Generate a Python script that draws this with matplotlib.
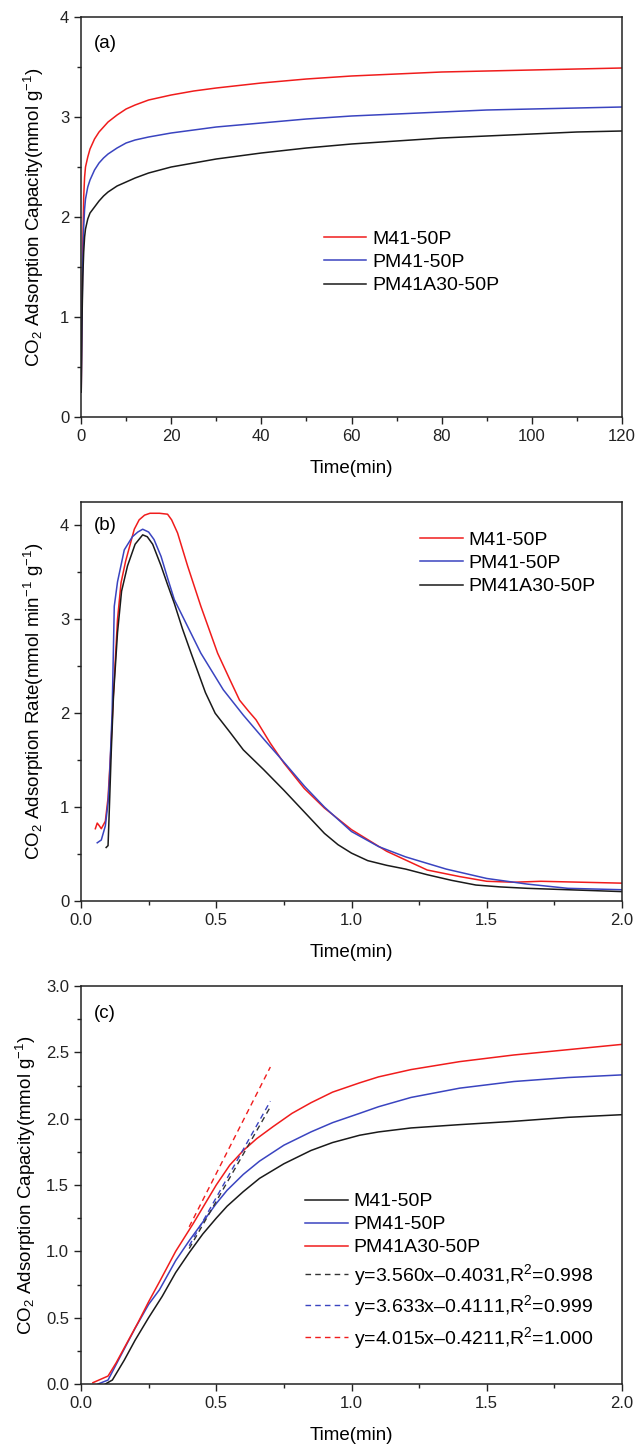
import matplotlib
matplotlib.use("Agg")
import matplotlib.pyplot as plt
from matplotlib.ticker import MultipleLocator, FormatStrFormatter

plt.rcParams['font.family'] = ['Liberation Sans', 'DejaVu Sans']
plt.rcParams['mathtext.fontset'] = 'custom'
plt.rcParams['mathtext.rm'] = 'Liberation Sans'
plt.rcParams['mathtext.it'] = 'Liberation Sans'
plt.rcParams['mathtext.default'] = 'regular'

# ---------------- data ----------------
# Panel (a): adsorption capacity vs time (0-120 min)
t_a = [0.05, 0.2, 0.4, 0.6, 0.8, 1, 1.5, 2, 3, 4, 5, 6, 8, 10, 12, 15, 20, 25, 30,
       40, 50, 60, 70, 80, 90, 100, 110, 120]
a_m41 = [0.25, 1.0, 1.7, 2.2, 2.4, 2.5, 2.6, 2.68, 2.78, 2.85, 2.9, 2.95, 3.02, 3.08,
         3.12, 3.17, 3.22, 3.26, 3.29, 3.34, 3.38, 3.41, 3.43, 3.45, 3.46, 3.47, 3.48, 3.49]
a_pm41 = [0.25, 0.95, 1.55, 1.9, 2.08, 2.18, 2.3, 2.37, 2.47, 2.54, 2.59, 2.63, 2.69, 2.74,
          2.77, 2.8, 2.84, 2.87, 2.9, 2.94, 2.98, 3.01, 3.03, 3.05, 3.07, 3.08, 3.09, 3.10]
a_pm41a30 = [0.25, 0.9, 1.4, 1.65, 1.8, 1.88, 1.98, 2.04, 2.1, 2.16, 2.21, 2.25, 2.31, 2.35,
             2.39, 2.44, 2.50, 2.54, 2.58, 2.64, 2.69, 2.73, 2.76, 2.79, 2.81, 2.83, 2.85, 2.86]

# Panel (b): adsorption rate vs time (0-2 min)
t_b_m41 = [0.053, 0.06, 0.068, 0.075, 0.09, 0.1, 0.11, 0.12, 0.135, 0.148, 0.165, 0.197,
           0.215, 0.235, 0.255, 0.29, 0.32, 0.335, 0.357, 0.394, 0.443, 0.505, 0.55,
           0.586, 0.62, 0.647, 0.7, 0.75, 0.825, 0.9, 1.0, 1.13, 1.28, 1.4, 1.5, 1.6,
           1.7, 1.85, 2.0]
b_m41 = [0.77, 0.83, 0.8, 0.77, 0.85, 1.1, 1.6, 2.2, 3.0, 3.39, 3.62, 3.96, 4.06,
         4.11, 4.13, 4.13, 4.12, 4.06, 3.92, 3.57, 3.14, 2.64, 2.36, 2.14, 2.02,
         1.93, 1.68, 1.47, 1.2, 0.99, 0.76, 0.53, 0.33, 0.26, 0.21, 0.2, 0.21, 0.2, 0.19]
t_b_pm41 = [0.06, 0.075, 0.09, 0.1, 0.105, 0.115, 0.123, 0.135, 0.16, 0.19, 0.21, 0.228,
            0.25, 0.27, 0.296, 0.32, 0.345, 0.376, 0.443, 0.526, 0.6, 0.677, 0.75, 0.827,
            0.9, 1.0, 1.1, 1.2, 1.35, 1.5, 1.65, 1.8, 2.0]
b_pm41 = [0.62, 0.65, 0.8, 1.05, 1.29, 2.0, 3.14, 3.4, 3.74, 3.88, 3.93, 3.96,
          3.93, 3.85, 3.67, 3.44, 3.21, 3.03, 2.64, 2.25, 1.98, 1.72, 1.48, 1.22,
          1.0, 0.74, 0.58, 0.47, 0.34, 0.24, 0.18, 0.135, 0.12]
t_b_pm41a30 = [0.093, 0.1, 0.105, 0.112, 0.12, 0.135, 0.15, 0.172, 0.2, 0.228, 0.245,
               0.265, 0.296, 0.32, 0.345, 0.375, 0.407, 0.46, 0.496, 0.55, 0.60, 0.675,
               0.75, 0.825, 0.90, 0.95, 1.0, 1.06, 1.13, 1.2, 1.28, 1.37, 1.46, 1.55,
               1.65, 1.8, 2.0]
b_pm41a30 = [0.57, 0.59, 1.0, 1.6, 2.18, 2.86, 3.3, 3.57, 3.8, 3.9, 3.88,
             3.8, 3.57, 3.37, 3.17, 2.9, 2.64, 2.22, 2.0, 1.8, 1.61, 1.4,
             1.18, 0.95, 0.72, 0.6, 0.51, 0.43, 0.38, 0.34, 0.28, 0.22, 0.17, 0.15,
             0.135, 0.12, 0.10]

# Panel (c): capacity vs time (0-2 min) with linear fits
t_c_m41 = [0.09, 0.116, 0.16, 0.2, 0.25, 0.3, 0.35, 0.4, 0.45, 0.5, 0.54, 0.6, 0.66,
           0.75, 0.85, 0.93, 1.03, 1.1, 1.22, 1.4, 1.6, 1.8, 2.0]
c_m41 = [0.0, 0.03, 0.18, 0.33, 0.5, 0.66, 0.84, 0.99, 1.13, 1.25, 1.34, 1.45, 1.55,
         1.66, 1.76, 1.82, 1.875, 1.9, 1.93, 1.955, 1.98, 2.01, 2.03]
t_c_pm41 = [0.063, 0.1, 0.146, 0.2, 0.25, 0.29, 0.35, 0.4, 0.45, 0.5, 0.54, 0.6, 0.66,
            0.75, 0.85, 0.93, 1.03, 1.1, 1.22, 1.4, 1.6, 1.8, 2.0]
c_pm41 = [0.0, 0.03, 0.21, 0.42, 0.6, 0.71, 0.93, 1.08, 1.22, 1.36, 1.46, 1.58, 1.68,
          1.8, 1.9, 1.97, 2.04, 2.09, 2.16, 2.23, 2.28, 2.31, 2.33]
t_c_pm41a30 = [0.044, 0.1, 0.13, 0.17, 0.21, 0.25, 0.29, 0.35, 0.415, 0.5, 0.55, 0.6,
               0.65, 0.71, 0.78, 0.85, 0.93, 1.03, 1.1, 1.22, 1.4, 1.6, 1.8, 2.0]
c_pm41a30 = [0.01, 0.06, 0.16, 0.31, 0.46, 0.62, 0.77, 1.0, 1.21, 1.5, 1.65, 1.76,
             1.85, 1.94, 2.04, 2.12, 2.2, 2.27, 2.315, 2.37, 2.43, 2.48, 2.52, 2.56]
fit_slope = [3.560, 3.633, 4.015]
fit_intercept = [-0.4031, -0.4111, -0.4211]
fit_r2 = ['0.998', '0.999', '1.000']
fit_x = [0.40, 0.70]

RED = '#f01c1c'
BLUE = '#3a44c0'
BLACK = '#1a1a1a'

fig = plt.figure(figsize=(6.36, 14.46), dpi=100)
L, W = 81 / 636, 541 / 636
ax_a = fig.add_axes([L, 1 - 417 / 1446, W, 400 / 1446])
ax_b = fig.add_axes([L, 1 - 901 / 1446, W, 399 / 1446])
ax_c = fig.add_axes([L, 1 - 1384 / 1446, W, 398 / 1446])

TICK_FS = 12
LAB_FS = 13.5
LEG_FS = 14

def style(ax):
    for s in ax.spines.values():
        s.set_linewidth(1.1)
        s.set_color('#222222')
    ax.tick_params(which='both', direction='out', top=False, right=False,
                   labelsize=TICK_FS, colors='#222222', width=1.0)
    ax.tick_params(which='major', length=5)
    ax.tick_params(which='minor', length=3)

leg_kw = dict(loc='upper left', frameon=False, fontsize=LEG_FS, handlelength=2.2,
              handletextpad=0.3, borderaxespad=0)

# ---- (a)
ax_a.plot(t_a, a_m41, color=RED, lw=1.1, label='M41-50P')
ax_a.plot(t_a, a_pm41, color=BLUE, lw=1.1, label='PM41-50P')
ax_a.plot(t_a, a_pm41a30, color=BLACK, lw=1.1, label='PM41A30-50P')
ax_a.set_xlim(0, 120)
ax_a.set_ylim(0, 4)
ax_a.xaxis.set_major_locator(MultipleLocator(20))
ax_a.xaxis.set_minor_locator(MultipleLocator(10))
ax_a.yaxis.set_major_locator(MultipleLocator(1))
ax_a.yaxis.set_minor_locator(MultipleLocator(0.5))
style(ax_a)
ax_a.set_xlabel('Time(min)', fontsize=LAB_FS, labelpad=12)
ax_a.set_ylabel('CO$_2$ Adsorption Capacity(mmol g$^{-1}$)', fontsize=LAB_FS, labelpad=10)
ax_a.text(0.024, 0.935, '(a)', transform=ax_a.transAxes, fontsize=LAB_FS, va='center')
ax_a.legend(bbox_to_anchor=(0.434, 0.487), labelspacing=0.3, **leg_kw)

# ---- (b)
ax_b.plot(t_b_m41, b_m41, color=RED, lw=1.1, label='M41-50P')
ax_b.plot(t_b_pm41, b_pm41, color=BLUE, lw=1.1, label='PM41-50P')
ax_b.plot(t_b_pm41a30, b_pm41a30, color=BLACK, lw=1.1, label='PM41A30-50P')
ax_b.set_xlim(0, 2.0)
ax_b.set_ylim(0, 4.25)
ax_b.xaxis.set_major_locator(MultipleLocator(0.5))
ax_b.xaxis.set_minor_locator(MultipleLocator(0.25))
ax_b.yaxis.set_major_locator(MultipleLocator(1))
ax_b.yaxis.set_minor_locator(MultipleLocator(0.5))
ax_b.xaxis.set_major_formatter(FormatStrFormatter('%.1f'))
style(ax_b)
ax_b.set_xlabel('Time(min)', fontsize=LAB_FS, labelpad=12)
ax_b.set_ylabel('CO$_2$ Adsorption Rate(mmol min$^{-1}$ g$^{-1}$)', fontsize=LAB_FS, labelpad=10)
ax_b.text(0.024, 0.94, '(b)', transform=ax_b.transAxes, fontsize=LAB_FS, va='center')
ax_b.legend(bbox_to_anchor=(0.612, 0.947), labelspacing=0.3, **leg_kw)

# ---- (c)
ax_c.plot(t_c_m41, c_m41, color=BLACK, lw=1.1, label='M41-50P')
ax_c.plot(t_c_pm41, c_pm41, color=BLUE, lw=1.1, label='PM41-50P')
ax_c.plot(t_c_pm41a30, c_pm41a30, color=RED, lw=1.1, label='PM41A30-50P')
fit_colors = ['#333333', BLUE, RED]
for k, s, b, r2 in zip(fit_colors, fit_slope, fit_intercept, fit_r2):
    ys = [s * x + b for x in fit_x]
    ax_c.plot(fit_x, ys, color=k, lw=1.0, ls=(0, (4, 3)),
              label='y=%.3fx\u2013%.4f,R$^2$=%s' % (s, -b, r2))
ax_c.set_xlim(0, 2.0)
ax_c.set_ylim(0, 3.0)
ax_c.xaxis.set_major_locator(MultipleLocator(0.5))
ax_c.xaxis.set_minor_locator(MultipleLocator(0.25))
ax_c.yaxis.set_major_locator(MultipleLocator(0.5))
ax_c.yaxis.set_minor_locator(MultipleLocator(0.25))
ax_c.xaxis.set_major_formatter(FormatStrFormatter('%.1f'))
ax_c.yaxis.set_major_formatter(FormatStrFormatter('%.1f'))
style(ax_c)
ax_c.set_xlabel('Time(min)', fontsize=LAB_FS, labelpad=12)
ax_c.set_ylabel('CO$_2$ Adsorption Capacity(mmol g$^{-1}$)', fontsize=LAB_FS, labelpad=6)
ax_c.text(0.024, 0.93, '(c)', transform=ax_c.transAxes, fontsize=LAB_FS, va='center')
ax_c.legend(bbox_to_anchor=(0.4, 0.5), labelspacing=0.28, **leg_kw)

fig.savefig('out.png', dpi=100, facecolor='white')
